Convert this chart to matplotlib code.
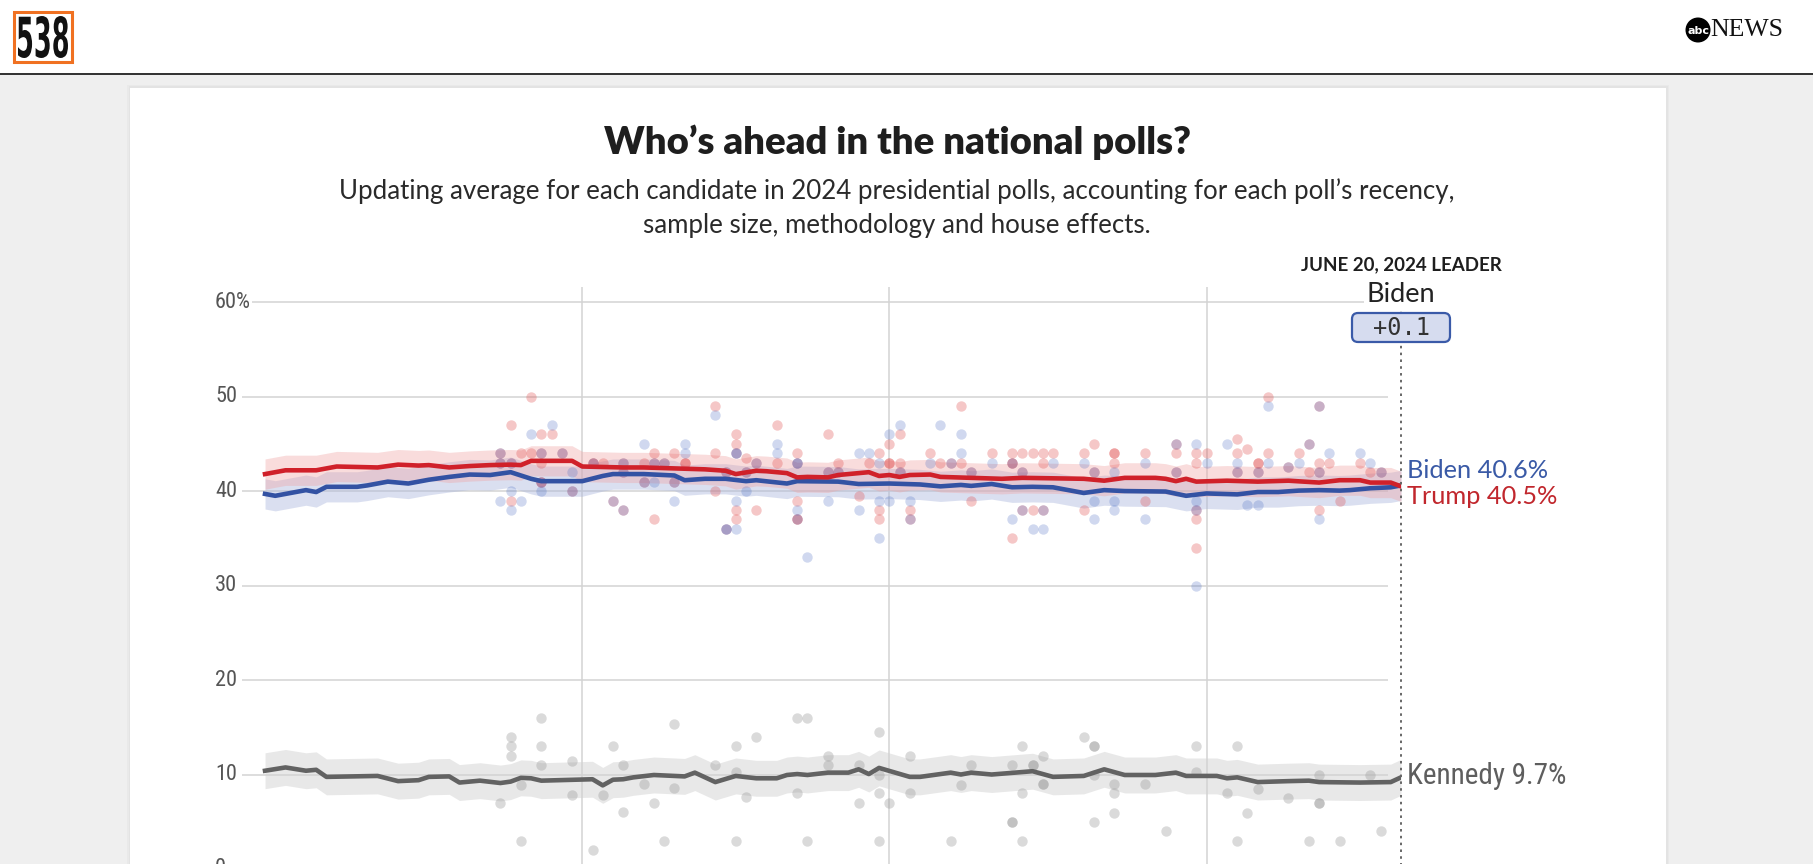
import numpy as np
import pandas as pd
import matplotlib
matplotlib.use("Agg")
import matplotlib.pyplot as plt
import matplotlib.dates as mdates
from matplotlib.patches import Rectangle, FancyBboxPatch, Circle, PathPatch
from matplotlib.lines import Line2D
from matplotlib.textpath import TextPath
from matplotlib.font_manager import FontProperties, fontManager
from matplotlib.transforms import Affine2D, IdentityTransform, blended_transform_factory

# ---------------- data (days counted from START_DATE) ----------------
START_DATE = "2024-03-01"
LAST_DAY = 111  # June 20, 2024
month_lines = ["2024-04-01", "2024-05-01", "2024-06-01"]
y_ticks = [0, 10, 20, 30, 40, 50, 60]
y_tick_labels = ["0", "10", "20", "30", "40", "50", "60%"]

trump_days = [0, 2, 5, 7, 11, 13, 15, 16, 18, 20, 22, 24, 25, 26, 30, 31, 35, 37, 40, 43,
              45, 46, 48, 49, 51, 52, 53, 55, 56, 59, 60, 61, 62, 63, 65, 66, 69, 72, 74, 77,
              80, 82, 84, 87, 88, 89, 90, 91, 94, 97, 100, 103, 105, 107, 108, 110, 111]
trump_avg = [41.8, 42.2, 42.2, 42.6, 42.5, 42.8, 42.7, 42.75, 42.5, 42.65, 42.75, 42.8, 42.75, 43.2, 43.2, 42.6, 42.5, 42.5, 42.4, 42.3,
             42.15, 41.8, 42.15, 42.1, 41.9, 41.45, 41.5, 41.45, 41.7, 42.0, 41.6, 41.7, 41.5, 41.7, 41.75, 41.5, 41.4, 41.3, 41.4, 41.35,
             41.3, 41.1, 41.4, 41.4, 41.3, 41.05, 41.3, 41.0, 41.1, 41.0, 41.1, 40.9, 41.15, 41.15, 40.9, 40.9, 40.5]

biden_days = [0, 1, 4, 5, 6, 9, 10, 12, 14, 16, 18, 20, 22, 24, 26, 27, 31, 33, 34, 37,
              40, 41, 43, 45, 47, 48, 51, 52, 56, 58, 61, 64, 66, 68, 69, 71, 73, 75, 77, 80,
              82, 84, 88, 90, 92, 95, 97, 99, 101, 103, 105, 106, 108, 110, 111]
biden_avg = [39.7, 39.5, 40.1, 39.9, 40.45, 40.45, 40.6, 41.0, 40.8, 41.2, 41.5, 41.75, 41.7, 42.0, 41.3, 41.05, 41.05, 41.6, 41.8, 41.8,
             41.65, 41.15, 41.3, 41.3, 41.05, 41.15, 40.8, 41.05, 41.0, 40.75, 40.8, 40.7, 40.5, 40.65, 40.55, 40.75, 40.4, 40.45, 40.4, 39.8,
             40.1, 40.0, 39.95, 39.5, 39.75, 39.65, 39.9, 39.9, 40.05, 40.1, 40.05, 40.1, 40.3, 40.4, 40.6]

kennedy_days = [0, 2, 4, 5, 6, 11, 13, 15, 16, 18, 19, 21, 23, 24, 25, 26, 27, 32, 33, 34,
                35, 36, 38, 41, 42, 44, 46, 48, 50, 51, 52, 53, 55, 57, 58, 59, 60, 63, 64, 67,
                68, 69, 71, 75, 77, 80, 82, 84, 87, 89, 90, 93, 94, 95, 97, 100, 102, 103, 107, 110, 111]
kennedy_avg = [10.4, 10.75, 10.4, 10.5, 9.75, 9.85, 9.3, 9.4, 9.75, 9.8, 9.15, 9.35, 9.1, 9.25, 9.65, 9.6, 9.35, 9.5, 8.85, 9.45,
               9.5, 9.7, 9.95, 9.8, 10.2, 9.2, 9.85, 9.6, 9.6, 9.95, 10.05, 9.95, 10.2, 10.2, 10.55, 10.05, 10.7, 9.75, 9.75, 10.2,
               10.0, 10.2, 10.0, 10.35, 9.75, 9.85, 10.55, 9.95, 9.95, 10.2, 9.85, 9.85, 9.6, 9.7, 9.2, 9.3, 9.35, 9.2, 9.15, 9.2, 9.7]

trump_band = 1.6
biden_band = 1.6
kennedy_band = 1.9

# individual polls
trump_poll_day = [23, 23, 24, 24, 24, 25, 26, 26, 27, 27, 27, 27, 27, 28, 29, 30, 32, 32, 33, 34,
                  35, 35, 35, 37, 37, 38, 38, 38, 39, 40, 40, 41, 41, 44, 44, 44, 45, 45,
                  46, 46, 46, 46, 46, 47, 47, 48, 48, 50, 50, 52, 52, 52, 52, 52, 55, 55, 56, 56,
                  58, 59, 60, 60, 60, 61, 61, 61, 62, 62, 62, 63, 63, 65, 66, 67, 68, 68, 69, 69,
                  71, 73, 73, 73, 73, 74, 74, 74, 75, 75, 76, 76, 76, 77, 80, 80, 81, 81,
                  83, 83, 83, 86, 86, 89, 89, 89, 91, 91, 91, 91, 91, 92, 95, 95, 95, 96,
                  97, 97, 97, 98, 98, 100, 101, 102, 102, 103, 103, 103, 103, 104, 105, 107, 108, 109]
trump_poll_pct = [44, 43, 47, 43, 39, 44, 50, 44, 46, 44, 43, 41, 41, 46, 44, 40, 43, 43, 43, 39,
                  43, 42, 38, 43, 41, 44, 43, 37, 43, 44, 41, 43, 43, 49, 44, 40, 42, 36,
                  46, 45, 44, 38, 37, 43.5, 42, 43, 38, 47, 43, 44, 43, 39, 37, 37, 46, 42, 43, 42,
                  39.5, 43, 44, 38, 37, 45, 43, 43, 46, 43, 42, 38, 37, 44, 43, 43, 49, 43, 42, 39,
                  44, 44, 43, 43, 35, 44, 42, 38, 44, 38, 44, 43, 38, 44, 44, 38, 45, 42,
                  44, 44, 43, 44, 39, 45, 44, 42, 44, 43, 38, 37, 34, 44, 45.5, 44, 42, 44.5,
                  43, 43, 42, 50, 44, 42.5, 44, 45, 42, 49, 43, 42, 38, 43, 39, 43, 42, 42]

biden_poll_day = [23, 23, 23, 24, 24, 24, 25, 26, 27, 27, 27, 28, 29, 30, 30, 32, 34,
                  35, 35, 35, 37, 37, 38, 38, 39, 40, 40, 41, 41, 44, 45, 45, 45,
                  46, 46, 46, 46, 47, 47, 48, 50, 50, 52, 52, 52, 52, 53, 55, 55, 56,
                  58, 58, 59, 60, 60, 60, 61, 61, 62, 62, 63, 63, 65, 66, 67, 68, 68, 69,
                  71, 73, 73, 74, 74, 75, 76, 76, 77, 80, 81, 81, 81,
                  83, 83, 83, 86, 86, 89, 89, 91, 91, 91, 91, 92, 94, 95, 95, 96,
                  97, 97, 98, 98, 100, 101, 102, 103, 103, 103, 104, 107, 108, 109]
biden_poll_pct = [44, 43, 39, 43, 40, 38, 39, 46, 44, 41, 40, 47, 44, 42, 40, 43, 39,
                  43, 42, 38, 45, 41, 43, 41, 43, 41, 39, 45, 44, 48, 42, 36, 36,
                  44, 44, 39, 36, 42, 40, 43, 45, 44, 43, 43, 38, 37, 33, 42, 39, 42,
                  44, 38, 44, 43, 39, 35, 46, 39, 47, 42, 39, 37, 43, 47, 43, 46, 44, 42,
                  43, 43, 37, 42, 38, 36, 38, 36, 43, 43, 42, 39, 37,
                  42, 39, 38, 43, 37, 45, 42, 45, 39, 38, 30, 43, 45, 43, 42, 38.5,
                  42, 38.5, 49, 43, 42.5, 43, 45, 49, 42, 37, 44, 44, 43, 42]

kennedy_poll_day = [23, 24, 24, 24, 25, 25, 27, 27, 27, 30, 30, 32, 33, 34, 35, 35, 37, 38, 39, 40, 40,
                    44, 46, 46, 46, 47, 48, 52, 52, 53, 53, 55, 55, 58, 58, 60, 60, 60, 60, 61,
                    63, 63, 67, 68, 69, 73, 73, 73, 74, 74, 74, 75, 75, 76, 76, 76, 80, 81, 81, 81, 81,
                    83, 83, 83, 86, 88, 91, 91, 94, 95, 95, 96, 97, 100, 102, 103, 103, 103, 105, 108, 109]
kennedy_poll_pct = [7, 14, 13, 12, 8.9, 3, 16, 13, 11, 11.4, 7.8, 2, 7.8, 13, 11, 6, 9, 7, 3, 15.4, 8.6,
                    11, 13, 10.3, 3, 7.6, 14, 16, 8, 16, 3, 12, 11, 11, 7, 14.5, 9.9, 8, 3, 7,
                    12, 8, 3, 8.9, 11, 11, 5, 5, 13, 8, 3, 11, 11, 12, 9, 9, 14, 13, 13, 10, 5,
                    9, 8, 5.9, 9, 4, 13, 10.3, 8, 13, 3, 5.9, 8.5, 7.5, 3, 10, 7, 7, 3, 10, 4]

leader_date_label = "JUNE 20, 2024 LEADER"
leader_name = "Biden"
leader_margin = "+0.1"
end_labels = {"Biden": "Biden 40.6%", "Trump": "Trump 40.5%", "Kennedy": "Kennedy 9.7%"}

# ---------------- fonts ----------------
def find_font(keys):
    files = [f.fname for f in fontManager.ttflist]
    bad = ('bold', 'italic', 'oblique', 'light', 'thin', 'medium', 'black', 'semi', 'extra')
    for kw in keys:
        for fn in files:
            low = fn.lower().replace('-', '').replace('_', '')
            base = low.split('/')[-1]
            if kw in base and not any(b in base for b in bad):
                return fn
    return None

cf = find_font(['robotocondensed', 'liberationsansnarrow', 'dejavusanscondensed',
                'notosanscondensed', 'opensanscondensed'])
def cond(size):
    if cf:
        return FontProperties(fname=cf, size=size)
    return FontProperties(family='DejaVu Sans', size=size)

SANS = ['Lato', 'DejaVu Sans']

# ---------------- figure ----------------
W, H = 1813, 864
fig = plt.figure(figsize=(W / 100, H / 100), dpi=100)
fig.patch.set_facecolor('#efefef')

def X(px):
    return px / W

def Y(py):
    return 1 - py / H

# header bar
fig.add_artist(Rectangle((0, Y(73)), 1, 73 / H, transform=fig.transFigure,
                         fc='white', ec='none', zorder=-5))
fig.add_artist(Line2D([0, 1], [Y(73.5)] * 2, transform=fig.transFigure,
                      color='#222222', lw=1.3, zorder=-4))
# card with faint shadow
for k, col in enumerate(['#e9e9e9', '#e3e3e3']):
    pad = 3 - k * 1.5
    fig.add_artist(Rectangle((X(130 - pad), -0.02), (1536 + 2 * pad) / W, Y(88 - pad) + 0.02,
                             transform=fig.transFigure, fc=col, ec='none', zorder=-4))
fig.add_artist(Rectangle((X(130), -0.02), 1536 / W, Y(88) + 0.02, transform=fig.transFigure,
                         fc='white', ec='none', zorder=-3))

# 538 logo
fig.add_artist(Rectangle((X(14), Y(62)), 58 / W, 50 / H, transform=fig.transFigure,
                         fc='white', ec='#f07122', lw=2.2, zorder=2))
tp = TextPath((0, 0), "538", size=50, prop=FontProperties(family='DejaVu Sans', weight='bold'))
ext = tp.get_extents()
sx = 50 / ext.width
sy = 42 / ext.height
tr = Affine2D().translate(-ext.x0, -ext.y0).scale(sx, sy).translate(18, H - 58)
fig.add_artist(PathPatch(tr.transform_path(tp), transform=IdentityTransform(),
                         fc='#111111', ec='none', zorder=3))

# abc NEWS logo
fig.add_artist(Circle((1698, H - 30), 12.5, transform=IdentityTransform(), fc='black', ec='none', zorder=3))
fig.text(X(1698), Y(30.5), "abc", ha='center', va='center', color='white', fontsize=8,
         fontweight='bold', family=['DejaVu Sans'], zorder=4)
fig.text(X(1710), Y(30), "NEWS", ha='left', va='center', color='#111111', fontsize=18.5,
         family=['Liberation Serif', 'DejaVu Serif'], zorder=4)

# titles
fig.text(X(897), Y(142), "Who’s ahead in the national polls?", ha='center', va='center',
         fontsize=27.5, fontweight='heavy', family=SANS, color='#1e1e1e')
fig.text(X(897), Y(191), "Updating average for each candidate in 2024 presidential polls, accounting for each poll’s recency,",
         ha='center', va='center', fontsize=18.6, family=SANS, color='#2a2a2a')
fig.text(X(897), Y(225), "sample size, methodology and house effects.",
         ha='center', va='center', fontsize=18.6, family=SANS, color='#2a2a2a')

# ---------------- axes ----------------
ax_left, ax_right, ax_top, ax_bot = 242, 1401, 287, 869
ax = fig.add_axes([X(ax_left), Y(ax_bot), (ax_right - ax_left) / W, (ax_bot - ax_top) / H])
ax.patch.set_visible(False)
for s in ax.spines.values():
    s.set_visible(False)
ax.set_xticks([])
ax.set_yticks([])

start = pd.Timestamp(START_DATE)
def to_dates(days):
    return start + pd.to_timedelta(np.asarray(days, dtype=float), unit='D')

end = start + pd.Timedelta(days=LAST_DAY)
x0 = start - pd.Timedelta(days=2.25)
ax.set_xlim(x0, end)
ax.set_ylim(0, 61.6)

grid_c = '#d3d3d3'
grid_end = end - pd.Timedelta(days=1.3)
for yv in y_ticks:
    ax.hlines(yv, x0, grid_end, color=grid_c, lw=1.1, zorder=0)
for m in month_lines:
    ax.axvline(pd.Timestamp(m), color=grid_c, lw=1.1, zorder=0)

lab_tr = blended_transform_factory(fig.transFigure, ax.transData)
for yv, lab in zip(y_ticks, y_tick_labels):
    ax.text(X(215), yv, lab, transform=lab_tr, ha='left', va='center', fontproperties=cond(16),
            color='#555555', zorder=2, bbox=dict(fc='white', ec='none', pad=1.0))

# bands
def band(days, vals, m, col, a):
    d = to_dates(days)
    v = np.asarray(vals)
    ax.fill_between(d, v - m, v + m, color=col, alpha=a, lw=0, zorder=1)

band(kennedy_days, kennedy_avg, kennedy_band, '#d2d2d2', 0.5)
band(biden_days, biden_avg, biden_band, '#a9b5dc', 0.42)
band(trump_days, trump_avg, trump_band, '#f0a4a4', 0.38)

# poll dots
def dots(days, vals, col, a):
    n = min(len(days), len(vals))
    ax.scatter(to_dates(days[:n]), vals[:n], s=56, color=col, alpha=a, linewidths=0, zorder=2)

dots(kennedy_poll_day, kennedy_poll_pct, '#9a9a9a', 0.36)
dots(trump_poll_day, trump_poll_pct, '#e04848', 0.30)
dots(biden_poll_day, biden_poll_pct, '#4a6cc4', 0.26)

# averages
ax.plot(to_dates(kennedy_days), kennedy_avg, color='#626262', lw=3.3, zorder=3, solid_joinstyle='round')
ax.plot(to_dates(biden_days), biden_avg, color='#3352a3', lw=3.3, zorder=3, solid_joinstyle='round')
ax.plot(to_dates(trump_days), trump_avg, color='#d0212a', lw=3.3, zorder=3, solid_joinstyle='round')

# leader marker
xl = mdates.date2num(end)
xc = ax.transData.transform((xl, 0))[0]
fig.add_artist(Line2D([X(xc), X(xc)], [Y(305), Y(870)], transform=fig.transFigure,
                      color='#666666', lw=1.4, ls=(0, (1.3, 2.2)), zorder=5))
fig.add_artist(FancyBboxPatch((xc - 49, H - 342), 98, 29, boxstyle='round,pad=0,rounding_size=6',
                              transform=IdentityTransform(), fc='#d6dcef', ec='#3a5aa8', lw=1.6, zorder=6))
fig.text(X(xc), Y(328), leader_margin, ha='center', va='center', fontsize=17,
         family=['DejaVu Sans Mono'], color='#333333', zorder=7)
fig.text(X(xc), Y(265), leader_date_label, ha='center', va='center', fontsize=13.5,
         fontweight='bold', family=SANS, color='#1e1e1e', zorder=7)
fig.text(X(xc), Y(294), leader_name, ha='center', va='center', fontsize=19.5,
         family=SANS, color='#222222', zorder=7, bbox=dict(fc='white', ec='none', pad=2))

# end labels
fig.text(X(xc + 6), Y(470), end_labels["Biden"], ha='left', va='center', fontsize=18.3,
         family=SANS, color='#3a5aa6', zorder=7)
fig.text(X(xc + 6), Y(497), end_labels["Trump"], ha='left', va='center', fontsize=18.3,
         family=SANS, color='#c1272d', zorder=7)
fig.text(X(xc + 6), Y(776), end_labels["Kennedy"], ha='left', va='center',
         fontproperties=cond(21), color='#5e5e5e', zorder=7)

fig.savefig("out.png", dpi=100, facecolor=fig.get_facecolor())
